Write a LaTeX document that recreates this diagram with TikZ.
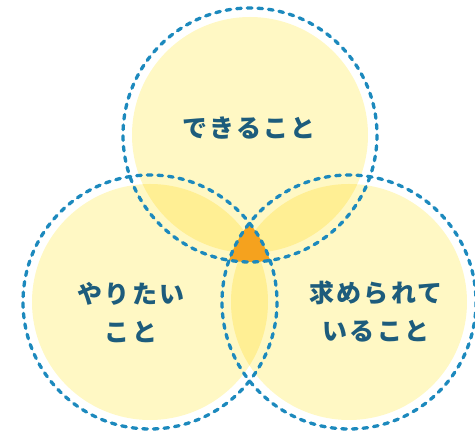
\documentclass[tikz,border=0pt]{standalone}
\usepackage{fontspec}
\newfontfamily\jp{Noto Sans CJK JP}[LetterSpace=9]
\definecolor{paleY}{HTML}{FFF8C4}
\definecolor{darkY}{HTML}{FFEF94}
\definecolor{orng}{HTML}{F5A21E}
\definecolor{dashB}{HTML}{1C89BD}
\definecolor{txtB}{HTML}{1D5C7C}
\tikzset{
  ring/.style={draw=dashB, line width=3.3pt, line cap=round, dash pattern=on 4.6pt off 6.04pt},
  lbl/.style={text=txtB, font=\jp\bfseries\fontsize{25}{38}\selectfont, align=center, inner sep=0pt},
}
\begin{document}
\begin{tikzpicture}[x=1pt,y=-1pt]
\useasboundingbox (0,0) rectangle (475,435);
\coordinate (T) at (250,135);
\coordinate (L) at (150,302);
\coordinate (R) at (349,302);
\def\ro{127}
\def\ri{118}
% pale fills
\foreach \c in {T,L,R} \fill[paleY] (\c) circle (\ri);
% pairwise overlaps
\begin{scope}\clip (T) circle (\ri); \fill[darkY] (L) circle (\ri); \end{scope}
\begin{scope}\clip (T) circle (\ri); \fill[darkY] (R) circle (\ri); \end{scope}
\begin{scope}\clip (L) circle (\ri); \fill[darkY] (R) circle (\ri); \end{scope}
% triple region
\begin{scope}
  \clip (T) circle (\ro);
  \clip (L) circle (\ro);
  \fill[orng] (R) circle (\ro);
\end{scope}
% dashed rings
\foreach \c in {T,L,R} \draw[ring] (\c) circle (\ro);
% labels
\node[lbl] (tT) at (249,128) {できること};
\node[lbl] (tL) at (131,313) {やりたい\\こと};
\node[lbl] (tR) at (376,312) {求められて\\いること};
\end{tikzpicture}
\end{document}
